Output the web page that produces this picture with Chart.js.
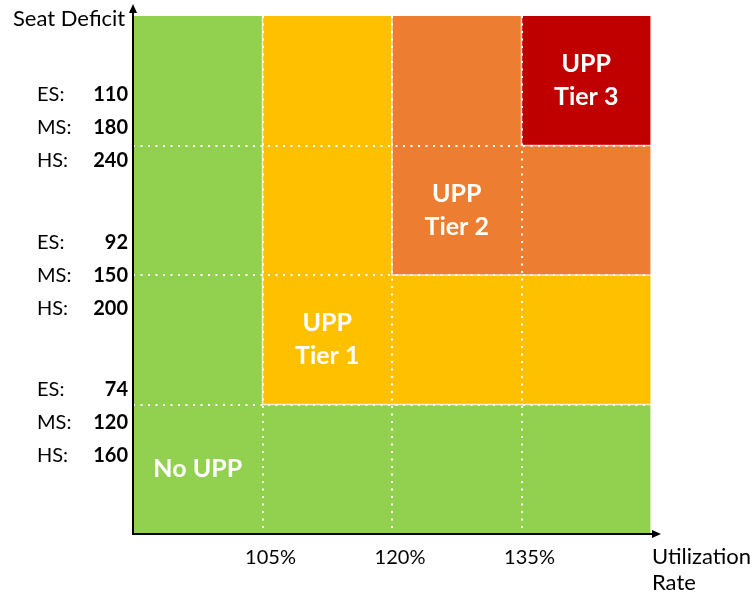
<!DOCTYPE html>
<html><head><meta charset="utf-8">
<script src="https://cdn.jsdelivr.net/npm/chart.js@4.4.1/dist/chart.umd.min.js"></script>
<style>html,body{margin:0;padding:0;background:#fff}#wrap{width:753px;height:594px}</style>
</head><body><div id="wrap"><canvas id="c"></canvas></div>
<script>
// ---- data ----
const columnCount = 4;           // utilization bands
const rowCount = 4;              // seat-deficit bands
const xTickLabels = ['105%', '120%', '135%'];   // at band boundaries 1,2,3
const esValues = [74, 92, 110];
const msValues = [120, 150, 180];
const hsValues = [160, 200, 240];
const yLabelAnchors = [0.857, 1.992, 3.135];    // where each ES/MS/HS group sits on the y band scale
const tierNames = [['No UPP'], ['UPP', 'Tier 1'], ['UPP', 'Tier 2'], ['UPP', 'Tier 3']];
const tierStart = [0, 1, 2, 3];                 // tier k covers bands >= k on both axes
const tierColors = ['#92D050', '#FFC000', '#ED7D31', '#C00000'];
const xTitle = ['Utilization', 'Rate'];
const yTitle = 'Seat Deficit';

const FONT = 'Lato, "Open Sans", sans-serif';

// one filled region per tier, drawn so higher tiers sit on top
const datasets = tierStart.map((s, k) => ({
  label: tierNames[k].join(' '),
  data: [
    {x: s, y: rowCount},
    {x: s, y: s},
    {x: columnCount, y: s},
    {x: columnCount, y: rowCount}
  ],
  showLine: true,
  fill: 'end',
  backgroundColor: tierColors[k],
  borderColor: 'rgba(255,255,255,0.75)',
  borderWidth: 1.5,
  pointRadius: 0,
  pointHoverRadius: 0,
  tension: 0
})).reverse();

const gridColor = (ctx) => {
  const v = ctx.tick ? ctx.tick.value : null;
  return (v === 0 || v === columnCount || v === rowCount) ? 'rgba(0,0,0,0)' : '#ffffff';
};

const overlay = {
  id: 'overlay',
  afterDraw(chart) {
    const {ctx, chartArea: a, scales: {x, y}} = chart;
    ctx.save();
    // axes with arrows
    ctx.strokeStyle = '#000';
    ctx.fillStyle = '#000';
    ctx.lineWidth = 2;
    ctx.beginPath();
    ctx.moveTo(a.left, a.bottom + 1);
    ctx.lineTo(a.left, a.top - 6);
    ctx.moveTo(a.left - 1, a.bottom);
    ctx.lineTo(a.right + 4, a.bottom);
    ctx.stroke();
    ctx.beginPath();
    ctx.moveTo(a.left, a.top - 12);
    ctx.lineTo(a.left - 4, a.top - 3);
    ctx.lineTo(a.left + 4, a.top - 3);
    ctx.closePath();
    ctx.fill();
    ctx.beginPath();
    ctx.moveTo(a.right + 10, a.bottom);
    ctx.lineTo(a.right + 1, a.bottom - 4);
    ctx.lineTo(a.right + 1, a.bottom + 4);
    ctx.closePath();
    ctx.fill();

    // y group labels
    ctx.textBaseline = 'middle';
    const gap = 33;
    yLabelAnchors.forEach((v, i) => {
      const cy = y.getPixelForValue(v);
      const rows = [['ES:', esValues[i]], ['MS:', msValues[i]], ['HS:', hsValues[i]]];
      rows.forEach((r, j) => {
        const ty = cy + (j - 1) * gap;
        ctx.font = '20px ' + FONT;
        ctx.textAlign = 'left';
        ctx.fillText(r[0], 37, ty);
        ctx.font = 'bold 20px ' + FONT;
        ctx.textAlign = 'right';
        ctx.fillText(String(r[1]), a.left - 5, ty);
      });
    });

    // axis titles
    ctx.font = '22px ' + FONT;
    ctx.textAlign = 'left';
    ctx.fillText(yTitle, 13, a.top + 3);
    ctx.fillText(xTitle[0], a.right + 1, a.bottom + 23);
    ctx.fillText(xTitle[1], a.right + 1, a.bottom + 49);

    // tier labels in the tier's corner cell
    ctx.fillStyle = '#fff';
    ctx.font = 'bold 25px ' + FONT;
    ctx.textAlign = 'center';
    tierStart.forEach((s, k) => {
      const cx = x.getPixelForValue(s + 0.5);
      const cy = y.getPixelForValue(s + 0.5);
      const lines = tierNames[k];
      lines.forEach((t, j) => {
        ctx.fillText(t, cx, cy + (j - (lines.length - 1) / 2) * 33);
      });
    });
    ctx.restore();
  }
};

new Chart(document.getElementById('c'), {
  type: 'scatter',
  data: {datasets},
  options: {
    responsive: true,
    maintainAspectRatio: false,
    animation: false,
    layout: {padding: {top: 16, right: 102, left: 0, bottom: 0}},
    plugins: {legend: {display: false}, tooltip: {enabled: false}},
    events: [],
    scales: {
      x: {
        type: 'linear', min: 0, max: columnCount,
        afterFit: (s) => { s.height = 60; },
        grid: {color: gridColor, lineWidth: 2, drawTicks: false, z: 1},
        border: {display: false, dash: [2, 5.5]},
        ticks: {
          stepSize: 1, autoSkip: false, maxRotation: 0, labelOffset: 8, padding: 12,
          color: '#000', font: {family: FONT, size: 20},
          callback: (v) => xTickLabels[v - 1] ?? ''
        }
      },
      y: {
        type: 'linear', min: 0, max: rowCount,
        afterFit: (s) => { s.width = 133; },
        grid: {color: gridColor, lineWidth: 2, drawTicks: false, z: 1},
        border: {display: false, dash: [2, 5.5]},
        ticks: {display: false, stepSize: 1}
      }
    }
  },
  plugins: [overlay]
});
</script>
</body></html>
